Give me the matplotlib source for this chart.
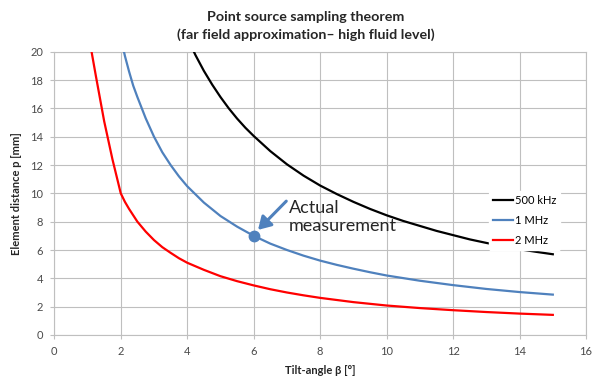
import matplotlib
matplotlib.use("Agg")
import matplotlib.pyplot as plt

plt.rcParams['font.family'] = ['Lato', 'DejaVu Sans']

# Tilt angle beta [deg] and element distance p [mm]
x_500k = [4.0, 4.25, 4.5, 4.75, 5.0, 5.25, 5.5, 5.75, 6.0, 6.5, 7.0, 7.5, 8.0, 8.5, 9.0, 9.5,
          10.0, 10.5, 11.0, 11.5, 12.0, 12.5, 13.0, 13.5, 14.0, 14.5, 15.0]
y_500k = [21.0, 19.75, 18.65, 17.68, 16.8, 16.0, 15.28, 14.63, 14.05, 12.98, 12.05, 11.25, 10.55,
          9.95, 9.4, 8.9, 8.45, 8.05, 7.7, 7.35, 7.05, 6.75, 6.5, 6.27, 6.05, 5.87, 5.7]

x_1m = [2.0, 2.125, 2.25, 2.375, 2.5, 2.75, 3.0, 3.25, 3.5, 3.75, 4.0, 4.5, 5.0, 5.5, 6.0, 6.5,
        7.0, 7.5, 8.0, 8.5, 9.0, 9.5, 10.0, 11.0, 12.0, 13.0, 14.0, 15.0]
y_1m = [21.0, 19.7, 18.6, 17.6, 16.8, 15.3, 14.0, 12.9, 12.0, 11.2, 10.5, 9.35, 8.4, 7.65, 7.0,
        6.45, 6.0, 5.6, 5.25, 4.95, 4.68, 4.43, 4.2, 3.83, 3.52, 3.25, 3.03, 2.85]

x_2m = [1.0, 1.25, 1.5, 1.75, 2.0, 2.125, 2.25, 2.5, 2.75, 3.0, 3.25, 3.5, 3.75, 4.0, 4.5, 5.0,
        5.5, 6.0, 6.5, 7.0, 7.5, 8.0, 9.0, 10.0, 11.0, 12.0, 13.0, 14.0, 15.0]
y_2m = [21.6, 18.3, 15.1, 12.4, 10.0, 9.4, 8.9, 8.0, 7.3, 6.7, 6.2, 5.8, 5.42, 5.1, 4.6, 4.15,
        3.8, 3.5, 3.23, 3.0, 2.8, 2.62, 2.32, 2.08, 1.9, 1.75, 1.62, 1.51, 1.42]

series_labels = ["500 kHz", "1 MHz", "2 MHz"]
measure_x = [6.0]
measure_y = [7.0]
measure_text = "Actual\nmeasurement"

x_ticks = list(range(0, 17, 2))
y_ticks = list(range(0, 21, 2))

fig = plt.figure(figsize=(5.96, 3.78), dpi=100)
ax = fig.add_axes([0.0911, 0.1138, 0.8922, 0.7494])

ax.plot(x_500k, y_500k, color='#000000', lw=1.6, label=series_labels[0], zorder=3)
ax.plot(x_1m, y_1m, color='#4F81BD', lw=1.6, label=series_labels[1], zorder=3)
ax.plot(x_2m, y_2m, color='#FF0000', lw=1.6, label=series_labels[2], zorder=3)
ax.plot(measure_x, measure_y, 'o', color='#4F81BD', ms=7.5, zorder=4)

ax.set_xlim(0, 16)
ax.set_ylim(0, 20)
ax.set_xticks(x_ticks)
ax.set_yticks(y_ticks)
ax.grid(True, color='#BFBFBF', lw=0.8)
ax.set_axisbelow(True)
for s in ax.spines.values():
    s.set_color('#BFBFBF')
    s.set_linewidth(0.8)
ax.tick_params(axis='both', colors='#4a4a4a', labelsize=8, length=3, width=0.8,
               color='#BFBFBF', pad=5)

ax.set_xlabel("Tilt-angle β [°]", fontsize=8, fontweight='bold', color='#262626', labelpad=6)
ax.set_ylabel("Element distance p [mm]", fontsize=8, fontweight='bold', color='#262626', labelpad=6)
fig.suptitle("Point source sampling theorem\n(far field approximation– high fluid level)",
             x=0.513, y=0.972, fontsize=10.3, fontweight='bold', color='#262626', linespacing=1.5)

leg = ax.legend(loc='upper left', bbox_to_anchor=(0.8176, 0.507), frameon=True, fontsize=8,
                handlelength=1.85, handletextpad=0.15, borderpad=0.35, labelspacing=0.8,
                borderaxespad=0)
leg.get_frame().set_facecolor('white')
leg.get_frame().set_edgecolor('white')
leg.get_frame().set_alpha(1.0)
leg.set_zorder(5)

ax.text(7.05, 8.34, measure_text, fontsize=13, color='#262626', ha='left', va='center',
        linespacing=1.2, zorder=6)
ax.annotate("", xy=(6.13, 7.42), xytext=(6.98, 9.45),
            arrowprops=dict(arrowstyle='-|>,head_length=0.75,head_width=0.45', color='#4F81BD',
                            lw=2.2, shrinkA=0, shrinkB=0),
            zorder=6)

fig.savefig("out.png", dpi=100)
